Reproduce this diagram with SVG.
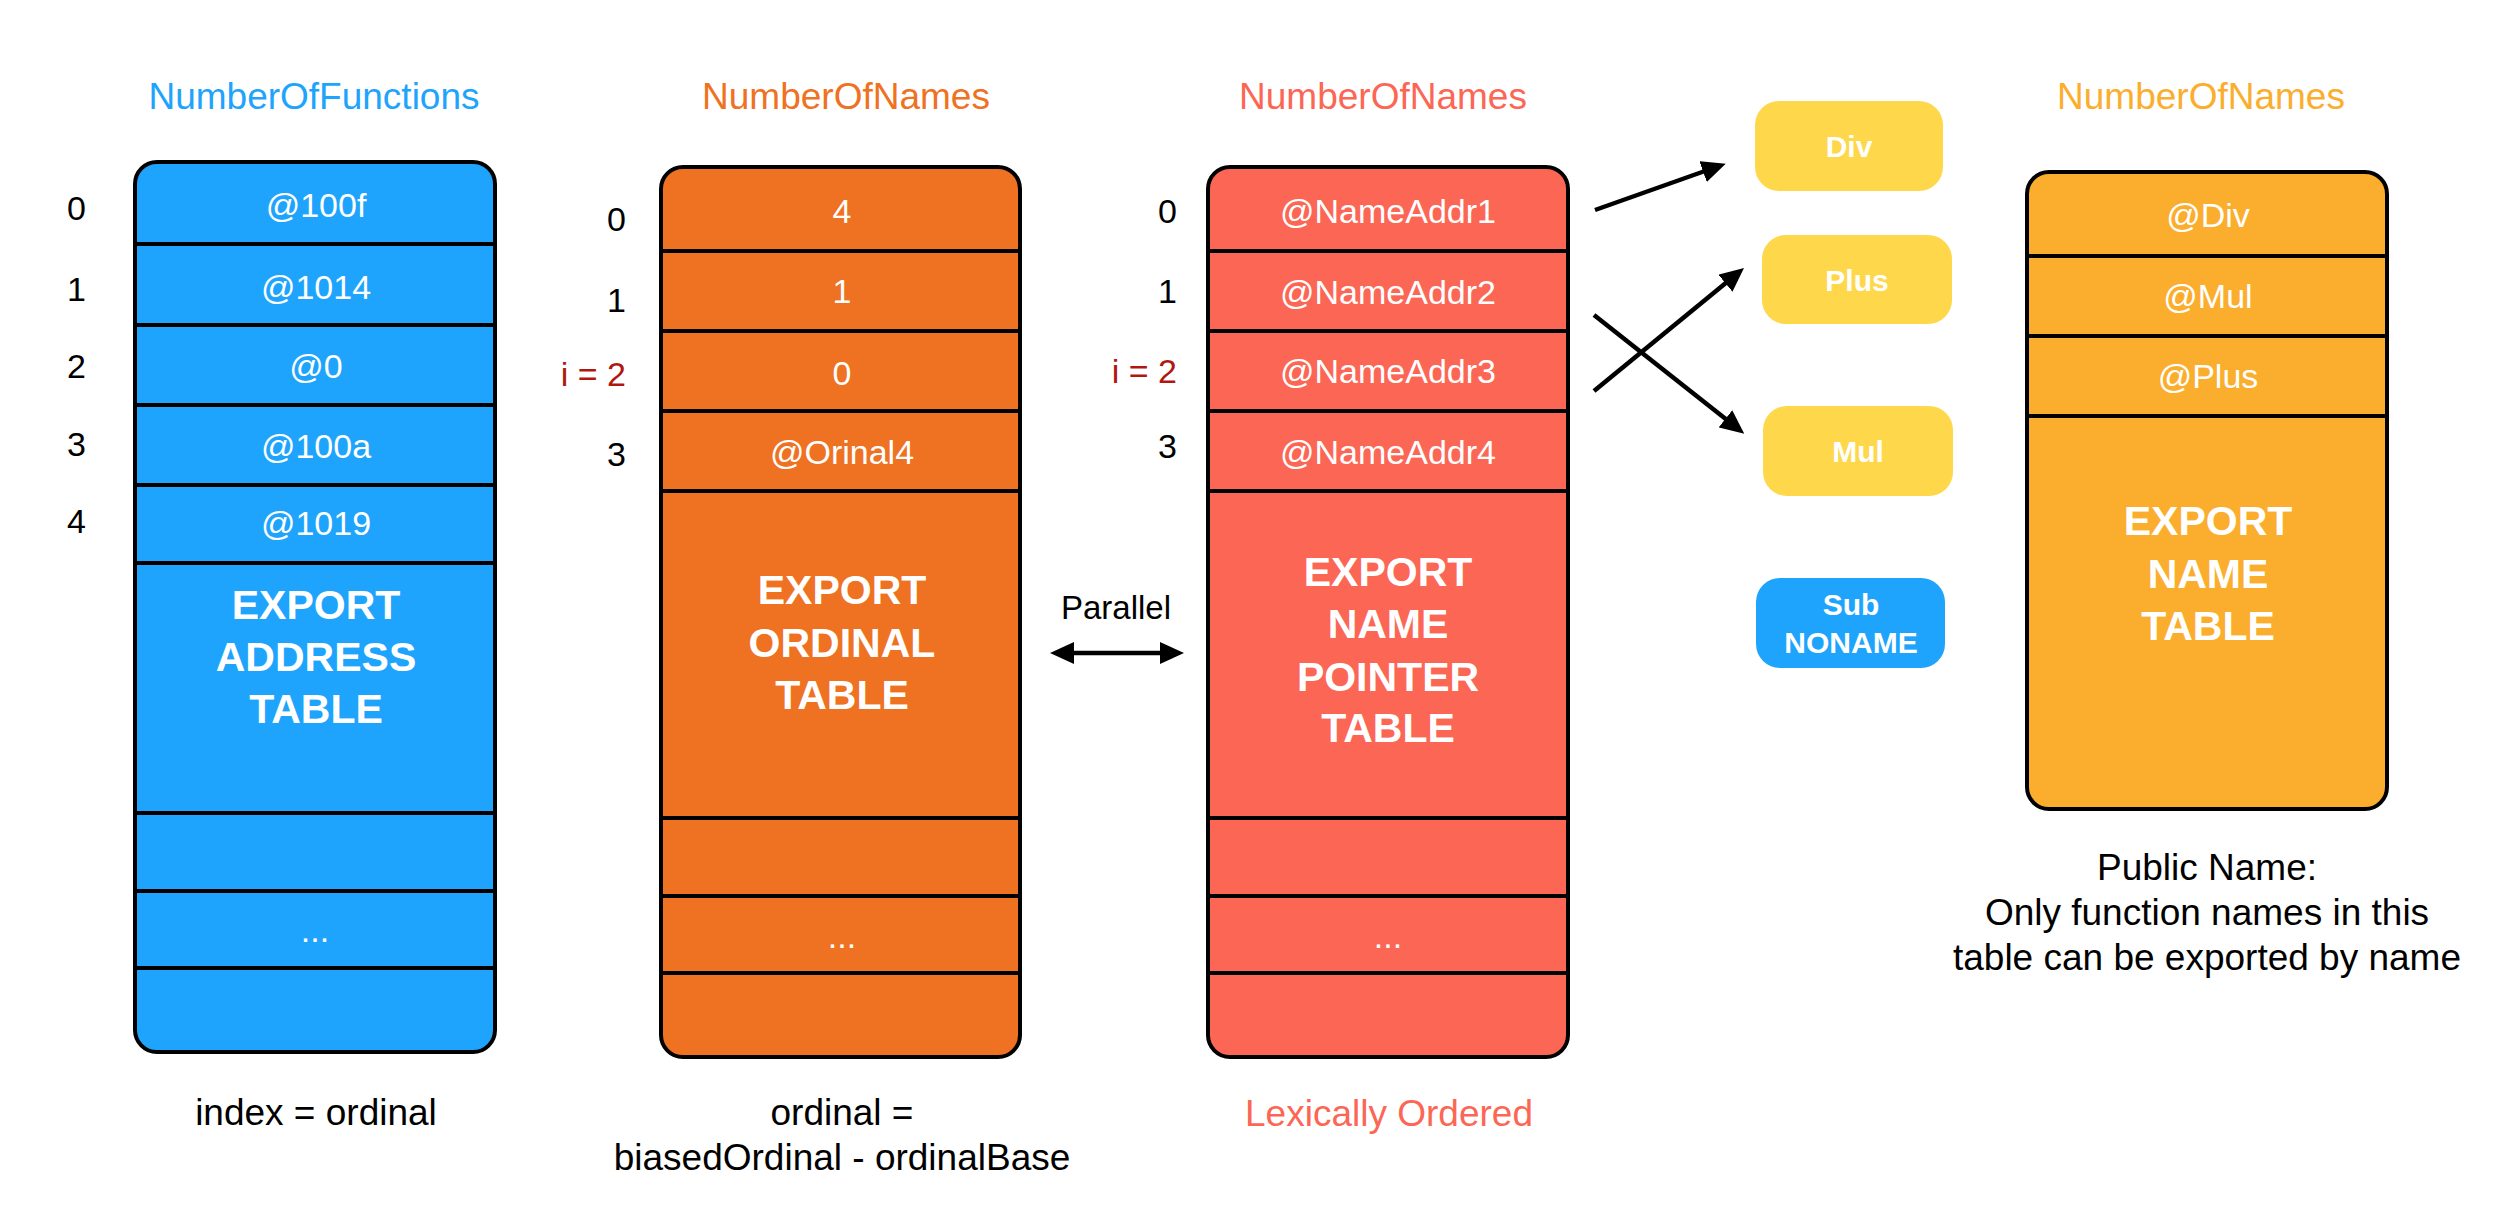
<svg xmlns="http://www.w3.org/2000/svg" width="2504" height="1228" viewBox="0 0 2504 1228">
<style>
text{font-family:"Liberation Sans",Arial,Helvetica,sans-serif}
.tbl{stroke:#000;stroke-width:4}
.div{stroke:#000;stroke-width:4}
.cell{fill:#fff;font-size:34px;text-anchor:middle}
.big{fill:#fff;font-size:41px;font-weight:bold;text-anchor:middle}
.idx{fill:#000;font-size:34px;text-anchor:end}
.idx.red{fill:#B0170F}
.title{font-size:37px;text-anchor:middle}
.note{fill:#000;font-size:37px;text-anchor:middle}
.note.lex{fill:#FC6655}
.fn{fill:#fff;font-size:30px;font-weight:bold;text-anchor:middle}
.conn{stroke:#000;stroke-width:4.5;fill:none}
</style>
<defs>
<marker id="ah" markerUnits="userSpaceOnUse" markerWidth="24" markerHeight="22" viewBox="0 0 24 22" refX="2" refY="11" orient="auto-start-reverse">
<path d="M0,0 L24,11 L0,22 z" fill="#000"/>
</marker>
</defs>

<g id="address-table">
<text class="title" x="314" y="109" fill="#1EA4FC">NumberOfFunctions</text>
<rect class="tbl" x="135" y="162" width="360" height="890" rx="22" fill="#1EA4FC"/>
<line class="div" x1="135" y1="244" x2="495" y2="244"/>
<line class="div" x1="135" y1="325" x2="495" y2="325"/>
<line class="div" x1="135" y1="405" x2="495" y2="405"/>
<line class="div" x1="135" y1="485" x2="495" y2="485"/>
<line class="div" x1="135" y1="563" x2="495" y2="563"/>
<line class="div" x1="135" y1="813" x2="495" y2="813"/>
<line class="div" x1="135" y1="891" x2="495" y2="891"/>
<line class="div" x1="135" y1="968" x2="495" y2="968"/>
<text class="cell" x="316" y="217">@100f</text>
<text class="cell" x="316" y="299">@1014</text>
<text class="cell" x="316" y="378">@0</text>
<text class="cell" x="316" y="458">@100a</text>
<text class="cell" x="316" y="535">@1019</text>
<text class="big" x="316" y="619">EXPORT</text>
<text class="big" x="316" y="671">ADDRESS</text>
<text class="big" x="316" y="723">TABLE</text>
<text class="cell" x="315" y="942">...</text>
<text class="idx" x="86" y="220">0</text>
<text class="idx" x="86" y="301">1</text>
<text class="idx" x="86" y="378">2</text>
<text class="idx" x="86" y="456">3</text>
<text class="idx" x="86" y="533">4</text>
<text class="note" x="316" y="1125">index = ordinal</text>
</g>

<g id="ordinal-table">
<text class="title" x="846" y="109" fill="#EF7122">NumberOfNames</text>
<rect class="tbl" x="661" y="167" width="359" height="890" rx="22" fill="#EF7122"/>
<line class="div" x1="661" y1="251" x2="1020" y2="251"/>
<line class="div" x1="661" y1="331" x2="1020" y2="331"/>
<line class="div" x1="661" y1="411" x2="1020" y2="411"/>
<line class="div" x1="661" y1="491" x2="1020" y2="491"/>
<line class="div" x1="661" y1="818" x2="1020" y2="818"/>
<line class="div" x1="661" y1="896" x2="1020" y2="896"/>
<line class="div" x1="661" y1="973" x2="1020" y2="973"/>
<text class="cell" x="842" y="223">4</text>
<text class="cell" x="842" y="303">1</text>
<text class="cell" x="842" y="385">0</text>
<text class="cell" x="842" y="464">@Orinal4</text>
<text class="big" x="842" y="604">EXPORT</text>
<text class="big" x="842" y="657">ORDINAL</text>
<text class="big" x="842" y="709">TABLE</text>
<text class="cell" x="842" y="948">...</text>
<text class="idx" x="626" y="231">0</text>
<text class="idx" x="626" y="312">1</text>
<text class="idx red" x="626" y="386">i = 2</text>
<text class="idx" x="626" y="466">3</text>
<text class="note" x="842" y="1125">ordinal =</text>
<text class="note" x="842" y="1170">biasedOrdinal - ordinalBase</text>
</g>

<g id="name-pointer-table">
<text class="title" x="1383" y="109" fill="#FC6655">NumberOfNames</text>
<rect class="tbl" x="1208" y="167" width="360" height="890" rx="22" fill="#FC6655"/>
<line class="div" x1="1208" y1="251" x2="1568" y2="251"/>
<line class="div" x1="1208" y1="331" x2="1568" y2="331"/>
<line class="div" x1="1208" y1="411" x2="1568" y2="411"/>
<line class="div" x1="1208" y1="491" x2="1568" y2="491"/>
<line class="div" x1="1208" y1="818" x2="1568" y2="818"/>
<line class="div" x1="1208" y1="896" x2="1568" y2="896"/>
<line class="div" x1="1208" y1="973" x2="1568" y2="973"/>
<text class="cell" x="1388" y="223">@NameAddr1</text>
<text class="cell" x="1388" y="304">@NameAddr2</text>
<text class="cell" x="1388" y="383">@NameAddr3</text>
<text class="cell" x="1388" y="464">@NameAddr4</text>
<text class="big" x="1388" y="586">EXPORT</text>
<text class="big" x="1388" y="638">NAME</text>
<text class="big" x="1388" y="691">POINTER</text>
<text class="big" x="1388" y="742">TABLE</text>
<text class="cell" x="1388" y="948">...</text>
<text class="idx" x="1177" y="223">0</text>
<text class="idx" x="1177" y="303">1</text>
<text class="idx red" x="1177" y="383">i = 2</text>
<text class="idx" x="1177" y="458">3</text>
<text class="note lex" x="1389" y="1126">Lexically Ordered</text>
</g>

<g id="fn-div">
<rect x="1755" y="101" width="188" height="90" rx="24" fill="#FED84A"/>
<text class="fn" x="1849" y="157">Div</text>
</g>
<g id="fn-plus">
<rect x="1762" y="235" width="190" height="89" rx="24" fill="#FED84A"/>
<text class="fn" x="1857" y="291">Plus</text>
</g>
<g id="fn-mul">
<rect x="1763" y="406" width="190" height="90" rx="24" fill="#FED84A"/>
<text class="fn" x="1858" y="462">Mul</text>
</g>
<g id="fn-sub">
<rect x="1756" y="578" width="189" height="90" rx="24" fill="#1EA4FC"/>
<text class="fn" x="1851" y="615">Sub</text>
<text class="fn" x="1851" y="653">NONAME</text>
</g>

<g id="name-table">
<text class="title" x="2201" y="109" fill="#FBAE2D">NumberOfNames</text>
<rect class="tbl" x="2027" y="172" width="360" height="637" rx="22" fill="#FBAE2D"/>
<line class="div" x1="2027" y1="256" x2="2387" y2="256"/>
<line class="div" x1="2027" y1="336" x2="2387" y2="336"/>
<line class="div" x1="2027" y1="416" x2="2387" y2="416"/>
<text class="cell" x="2208" y="227">@Div</text>
<text class="cell" x="2208" y="308">@Mul</text>
<text class="cell" x="2208" y="388">@Plus</text>
<text class="big" x="2208" y="535">EXPORT</text>
<text class="big" x="2208" y="588">NAME</text>
<text class="big" x="2208" y="640">TABLE</text>
<text class="note" x="2207" y="880">Public Name:</text>
<text class="note" x="2207" y="925">Only function names in this</text>
<text class="note" x="2207" y="970">table can be exported by name</text>
</g>

<g id="connectors">
<line class="conn" x1="1595" y1="210" x2="1705" y2="171" marker-end="url(#ah)"/>
<line class="conn" x1="1594" y1="391" x2="1727" y2="282" marker-end="url(#ah)"/>
<line class="conn" x1="1594" y1="315" x2="1727" y2="420" marker-end="url(#ah)"/>
<line class="conn" x1="1072" y1="653" x2="1162" y2="653" stroke-width="4" marker-start="url(#ah)" marker-end="url(#ah)"/>
<text x="1116" y="619" font-size="33" text-anchor="middle" fill="#000">Parallel</text>
</g>
</svg>
